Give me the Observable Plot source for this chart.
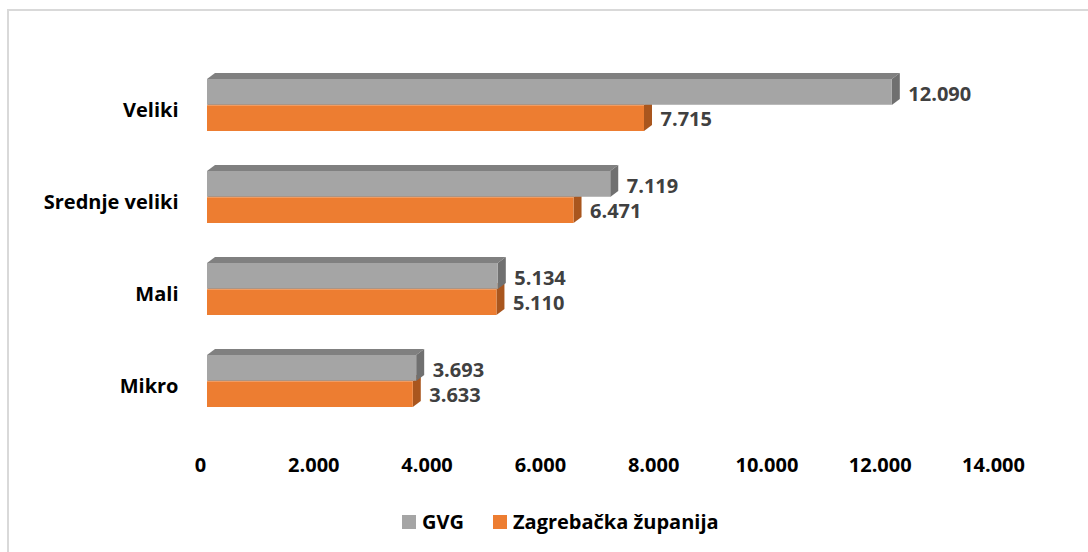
<!DOCTYPE html>
<html><head><meta charset="utf-8">
<script src="https://cdn.jsdelivr.net/npm/d3@7"></script>
<script src="https://cdn.jsdelivr.net/npm/@observablehq/plot@0.6"></script>
<style>
body{margin:0;background:#fff;font-family:"Open Sans",sans-serif;}
#wrap{position:relative;width:1088px;height:552px;overflow:hidden;background:#fff;}
#frame{position:absolute;left:7px;top:9px;width:1200px;height:700px;border-left:2px solid #d9d9d9;border-top:2px solid #d9d9d9;pointer-events:none;}
#chart{position:absolute;left:0;top:0;}
#legend{position:absolute;left:402px;top:510px;height:24px;display:flex;align-items:center;font-family:"Open Sans",sans-serif;font-size:20px;font-weight:700;color:#000;}
#legend .sw{width:14px;height:14px;display:inline-block;margin-right:6px;}
#legend .it{display:flex;align-items:center;margin-right:29px;line-height:24px;}
</style></head><body>
<div id="wrap"><div id="chart"></div><div id="legend"></div><div id="frame"></div></div>
<script>
const categories = ["Veliki", "Srednje veliki", "Mali", "Mikro"];
const seriesNames = ["GVG", "Zagrebačka županija"];
const gvgValues = [12090, 7119, 5134, 3693];
const zzValues = [7715, 6471, 5110, 3633];
const xTicks = [0, 2000, 4000, 6000, 8000, 10000, 12000, 14000];

const gray = {front: "#a5a5a5", top: "#808080", side: "#707070"};
const orange = {front: "#ed7d31", top: "#c0601f", side: "#a9561e"};

const rows = categories.map((c, i) => ({category: c, gvg: gvgValues[i], zz: zzValues[i]}));
const fmt = v => d3.format(",")(v).replace(/,/g, ".");

const yRange = [78, 407.7];
const padIn = 0.432;
const bw = d3.scaleBand().domain(categories).range(yRange).paddingInner(padIn).paddingOuter(0).bandwidth();
const half = bw / 2;
const depthX = 8, depthY = 6;

function box(key, col, lower) {
  return (index, scales) => {
    const x = scales.x, y = scales.y;
    const h = y.bandwidth() / 2;
    const g = d3.create("svg:g");
    rows.forEach(r => {
      const x0 = x(0), x1 = x(r[key]);
      const yt = y(r.category) + (lower ? h : 0), yb = yt + h;
      g.append("path").attr("fill", col.top)
        .attr("d", `M${x0},${yt}L${x0 + depthX},${yt - depthY}L${x1 + depthX},${yt - depthY}L${x1},${yt}Z`);
      g.append("path").attr("fill", col.side)
        .attr("d", `M${x1},${yt}L${x1 + depthX},${yt - depthY}L${x1 + depthX},${yb - depthY}L${x1},${yb}Z`);
    });
    return g.node();
  };
}

const chart = Plot.plot({
  width: 1088,
  height: 500,
  marginLeft: 207,
  marginRight: 88,
  marginTop: 20,
  marginBottom: 55,
  style: {background: "transparent", fontFamily: "Open Sans", fontSize: "20px", fontWeight: "bold", color: "#000", overflow: "visible"},
  x: {domain: [0, 14000], label: null},
  y: {domain: categories, range: yRange, paddingInner: padIn, paddingOuter: 0, label: null},
  marks: [
    box("zz", orange, true),
    Plot.barX(rows, {x: "zz", y: "category", fill: orange.front, insetTop: half}),
    box("gvg", gray, false),
    Plot.barX(rows, {x: "gvg", y: "category", fill: gray.front, insetBottom: half}),
    Plot.text(rows, {x: "gvg", y: "category", text: d => fmt(d.gvg), textAnchor: "start", dx: 16, dy: -half / 2 + 2, fill: "#404040", fontSize: 20, fontWeight: "bold"}),
    Plot.text(rows, {x: "zz", y: "category", text: d => fmt(d.zz), textAnchor: "start", dx: 16, dy: half / 2 + 1, fill: "#404040", fontSize: 20, fontWeight: "bold"}),
    Plot.axisX({ticks: xTicks, tickFormat: fmt, tickSize: 0, tickPadding: 12, dx: -7, fontSize: 20, fontWeight: "bold", fill: "#000", label: null}),
    Plot.axisY({tickSize: 0, tickPadding: 29, dy: 5, fontSize: 20, fontWeight: "bold", fill: "#000", label: null})
  ]
});
document.getElementById("chart").append(chart);

const legendColors = [gray.front, orange.front];
const legend = d3.select("#legend");
seriesNames.forEach((name, i) => {
  const it = legend.append("div").attr("class", "it");
  it.append("span").attr("class", "sw").style("background", legendColors[i]);
  it.append("span").text(name);
});
</script>
</body></html>
